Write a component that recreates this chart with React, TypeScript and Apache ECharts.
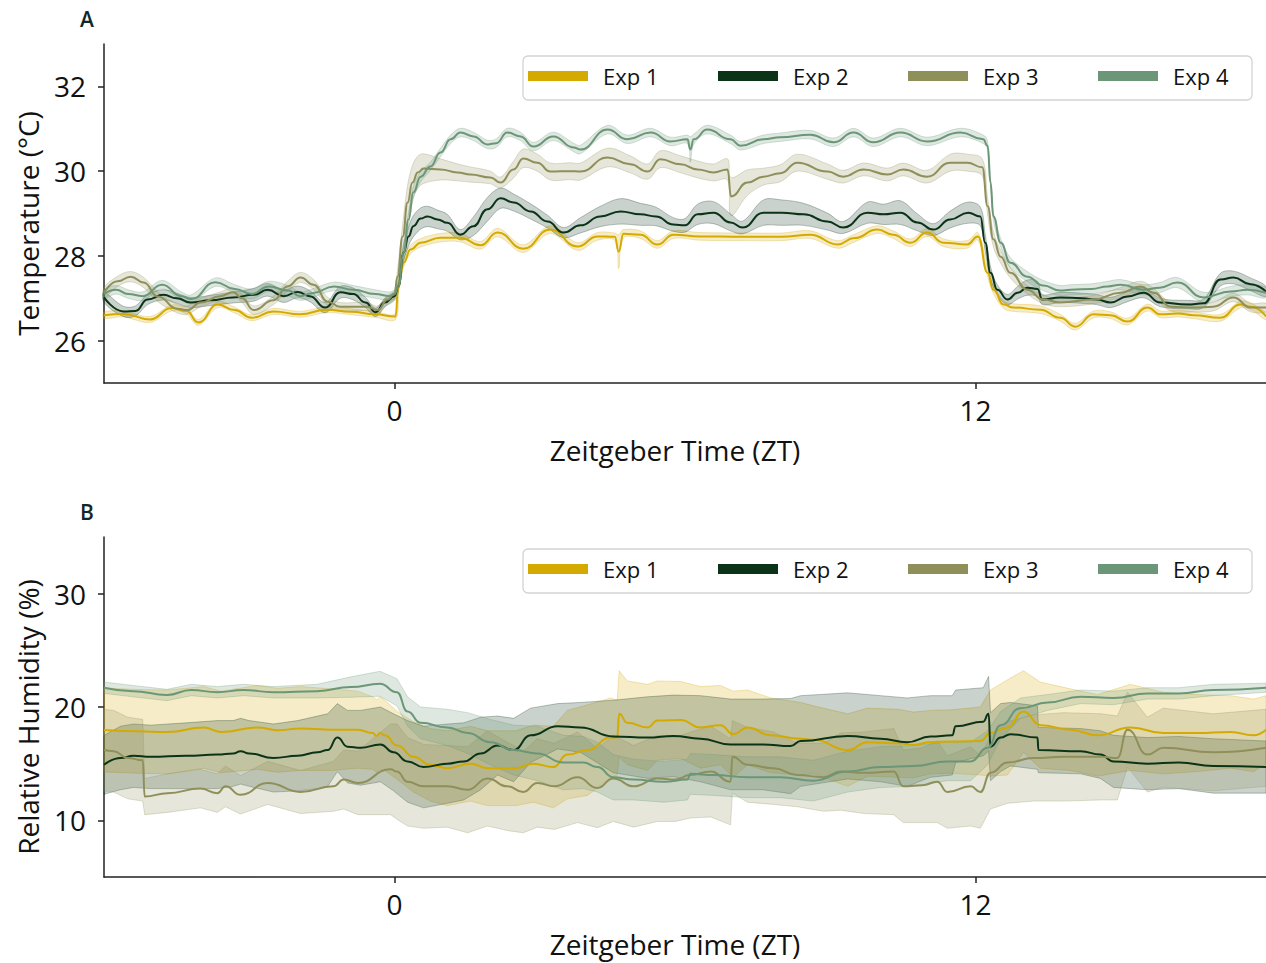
import React, { useEffect, useRef } from "react";
import * as echarts from "echarts";

const seriesNames = ["Exp 1", "Exp 2", "Exp 3", "Exp 4"];
const seriesColors = ["#D4AA00", "#0B3318", "#8F8F5A", "#6B9677"];
const xTicks = [0, 12];
const tempTicks = [26, 28, 30, 32];
const humTicks = [10, 20, 30];

// [ZT, mean, sd]
const tempExp1 = [
  [-6, 26.6, 0.07], [-5.6, 26.63, 0.07], [-5.05, 26.5, 0.07], [-4.6, 26.77, 0.07], [-4.3, 26.7, 0.07],
  [-4.05, 26.43, 0.07], [-3.65, 26.85, 0.07], [-3.3, 26.72, 0.07], [-2.95, 26.54, 0.07], [-2.5, 26.69, 0.07],
  [-1.95, 26.62, 0.07], [-1.4, 26.73, 0.07], [-0.9, 26.68, 0.07], [-0.4, 26.62, 0.07], [0.02, 26.57, 0.07],
  [0.08, 27.28, 0.1], [0.19, 27.84, 0.1], [0.33, 28.15, 0.1], [0.54, 28.31, 0.1], [0.95, 28.43, 0.1],
  [1.36, 28.43, 0.1], [1.78, 28.25, 0.09], [2.13, 28.55, 0.1], [2.66, 28.17, 0.09], [3.22, 28.62, 0.09],
  [3.78, 28.22, 0.09], [4.19, 28.46, 0.09], [4.55, 28.45, 0.09], [4.63, 28.1, 0.4], [4.73, 28.52, 0.1],
  [5.08, 28.5, 0.09], [5.43, 28.27, 0.09], [5.76, 28.5, 0.09], [6.3, 28.46, 0.09], [7.2, 28.45, 0.09],
  [8.0, 28.45, 0.09], [8.59, 28.5, 0.09], [9.15, 28.27, 0.09], [9.5, 28.42, 0.09], [9.97, 28.62, 0.09],
  [10.3, 28.5, 0.09], [10.66, 28.31, 0.09], [11.0, 28.55, 0.09], [11.34, 28.31, 0.09], [11.83, 28.27, 0.09],
  [12.05, 28.46, 0.09], [12.25, 27.6, 0.09], [12.37, 27.2, 0.09], [12.58, 26.85, 0.09], [12.78, 26.78, 0.09],
  [13.34, 26.73, 0.09], [13.75, 26.54, 0.08], [14.06, 26.33, 0.08], [14.44, 26.62, 0.08], [14.79, 26.6, 0.08],
  [15.14, 26.45, 0.08], [15.55, 26.78, 0.08], [15.82, 26.62, 0.08], [16.17, 26.64, 0.08], [16.5, 26.6, 0.08],
  [17.06, 26.54, 0.08], [17.47, 26.85, 0.08], [17.7, 26.8, 0.08], [18, 26.57, 0.08],
];

const tempExp2 = [
  [-6, 27.02, 0.12], [-5.6, 26.69, 0.12], [-5.35, 26.7, 0.12], [-5.1, 26.97, 0.12], [-4.77, 27.08, 0.12],
  [-4.5, 27.0, 0.12], [-4.21, 26.9, 0.12], [-3.8, 26.95, 0.12], [-3.33, 27.02, 0.13], [-2.91, 27.08, 0.15],
  [-2.62, 27.2, 0.15], [-2.29, 27.05, 0.15], [-2.0, 27.15, 0.14], [-1.75, 27.05, 0.13], [-1.43, 26.78, 0.12],
  [-1.12, 27.14, 0.14], [-0.85, 27.1, 0.14], [-0.6, 26.9, 0.12], [-0.39, 26.67, 0.1], [-0.2, 26.9, 0.1],
  [0.0, 27.05, 0.1], [0.08, 27.28, 0.12], [0.19, 28.08, 0.2], [0.29, 28.46, 0.22], [0.39, 28.7, 0.25],
  [0.54, 28.88, 0.25], [0.68, 28.93, 0.24], [0.89, 28.86, 0.22], [1.09, 28.78, 0.2], [1.36, 28.5, 0.12],
  [1.63, 28.7, 0.22], [1.92, 29.1, 0.28], [2.19, 29.36, 0.24], [2.46, 29.26, 0.2], [2.81, 29.05, 0.18],
  [3.16, 28.81, 0.15], [3.49, 28.55, 0.12], [3.84, 28.72, 0.18], [4.25, 28.93, 0.24], [4.67, 29.05, 0.3],
  [5.08, 28.98, 0.26], [5.4, 28.93, 0.22], [5.76, 28.74, 0.16], [6.0, 28.72, 0.16], [6.26, 28.98, 0.24],
  [6.59, 29.02, 0.26], [6.94, 28.79, 0.2], [7.19, 28.67, 0.15], [7.62, 29.02, 0.3], [8.0, 29.02, 0.3],
  [8.45, 28.98, 0.26], [8.94, 28.81, 0.2], [9.27, 28.67, 0.14], [9.77, 29.02, 0.25], [10.1, 28.98, 0.24],
  [10.45, 29.02, 0.28], [10.8, 28.79, 0.2], [11.13, 28.62, 0.14], [11.48, 28.86, 0.2], [11.85, 29.02, 0.25],
  [12.1, 28.93, 0.22], [12.2, 28.31, 0.2], [12.31, 27.6, 0.15], [12.45, 27.2, 0.12], [12.66, 26.97, 0.12],
  [12.87, 27.13, 0.15], [13.07, 27.25, 0.18], [13.28, 27.22, 0.18], [13.38, 26.97, 0.12], [13.75, 27.02, 0.12],
  [14.2, 27.0, 0.12], [14.5, 26.97, 0.12], [14.79, 26.9, 0.12], [15.14, 27.04, 0.12], [15.47, 27.13, 0.12],
  [15.82, 26.9, 0.1], [16.38, 26.85, 0.1], [16.71, 26.88, 0.1], [17.06, 27.44, 0.15], [17.33, 27.49, 0.15],
  [17.68, 27.33, 0.15], [18, 27.16, 0.12],
];

const tempExp3 = [
  [-6, 27.13, 0.12], [-5.72, 27.4, 0.12], [-5.45, 27.51, 0.12], [-5.18, 27.37, 0.12], [-4.89, 27.04, 0.12],
  [-4.48, 26.75, 0.1], [-4.28, 26.72, 0.1], [-4.0, 26.9, 0.1], [-3.6, 27.05, 0.1], [-3.33, 27.14, 0.1],
  [-3.15, 27.0, 0.1], [-2.91, 26.72, 0.1], [-2.5, 26.95, 0.1], [-2.21, 27.28, 0.12], [-1.94, 27.49, 0.12],
  [-1.67, 27.32, 0.12], [-1.38, 26.92, 0.1], [-1.12, 26.8, 0.1], [-0.8, 26.8, 0.1], [-0.56, 26.8, 0.1],
  [-0.35, 26.72, 0.1], [-0.14, 26.97, 0.1], [0.0, 27.1, 0.1], [0.06, 27.51, 0.15], [0.17, 28.46, 0.3],
  [0.27, 29.26, 0.4], [0.37, 29.73, 0.4], [0.48, 29.97, 0.38], [0.6, 30.06, 0.35], [0.95, 30.04, 0.25],
  [1.3, 29.97, 0.2], [1.57, 29.92, 0.18], [1.98, 29.85, 0.15], [2.19, 29.73, 0.13], [2.46, 30.04, 0.2],
  [2.66, 30.3, 0.22], [2.95, 30.2, 0.2], [3.22, 29.99, 0.2], [3.63, 30.0, 0.2], [3.84, 29.99, 0.2],
  [4.4, 30.32, 0.22], [4.87, 30.16, 0.2], [5.23, 29.99, 0.18], [5.49, 30.28, 0.2], [5.91, 30.16, 0.2],
  [6.26, 30.04, 0.2], [6.59, 29.97, 0.2], [6.88, 30.04, 0.25], [6.95, 29.4, 0.45], [7.29, 29.73, 0.3],
  [7.62, 29.87, 0.2], [7.97, 29.95, 0.2], [8.32, 30.2, 0.2], [8.94, 29.99, 0.18], [9.27, 29.87, 0.15],
  [9.69, 30.04, 0.15], [10.18, 29.92, 0.15], [10.51, 30.04, 0.15], [11.0, 29.87, 0.15], [11.48, 30.2, 0.2],
  [11.83, 30.2, 0.2], [12.14, 30.09, 0.2], [12.25, 29.17, 0.2], [12.37, 28.39, 0.18], [12.52, 27.98, 0.15],
  [12.72, 27.6, 0.12], [13.07, 27.2, 0.1], [13.4, 26.97, 0.1], [13.75, 26.9, 0.1], [14.44, 26.97, 0.1],
  [14.99, 27.13, 0.12], [15.41, 27.28, 0.12], [15.68, 27.13, 0.1], [16.03, 26.8, 0.1], [16.5, 26.78, 0.1],
  [16.91, 26.8, 0.1], [17.33, 27.02, 0.1], [17.68, 26.78, 0.1], [18, 26.78, 0.1],
];

const tempExp4 = [
  [-6, 27.1, 0.1], [-5.75, 27.2, 0.1], [-5.5, 27.1, 0.1], [-5.2, 27.05, 0.1], [-4.8, 27.32, 0.1],
  [-4.4, 27.05, 0.1], [-4.2, 26.98, 0.1], [-3.7, 27.38, 0.1], [-3.3, 27.22, 0.1], [-2.95, 27.1, 0.12],
  [-2.6, 27.28, 0.12], [-2.2, 27.18, 0.12], [-1.95, 27.05, 0.1], [-1.7, 27.12, 0.1], [-1.25, 27.28, 0.1],
  [-0.85, 27.2, 0.1], [-0.4, 27.1, 0.1], [-0.1, 27.05, 0.1], [0.0, 27.1, 0.1], [0.08, 27.28, 0.1],
  [0.19, 28.08, 0.15], [0.29, 28.86, 0.15], [0.39, 29.5, 0.15], [0.54, 29.87, 0.12], [0.74, 30.11, 0.1],
  [0.95, 30.44, 0.1], [1.16, 30.75, 0.1], [1.36, 30.91, 0.1], [1.63, 30.82, 0.1], [1.92, 30.63, 0.1],
  [2.1, 30.66, 0.1], [2.33, 30.91, 0.1], [2.6, 30.82, 0.1], [2.87, 30.58, 0.1], [3.28, 30.82, 0.1],
  [3.7, 30.56, 0.1], [3.84, 30.51, 0.1], [4.4, 30.98, 0.1], [4.81, 30.75, 0.1], [5.29, 30.91, 0.1],
  [5.7, 30.7, 0.1], [6.05, 30.75, 0.1], [6.11, 30.51, 0.3], [6.18, 30.75, 0.12], [6.46, 30.98, 0.1],
  [6.94, 30.75, 0.1], [7.15, 30.6, 0.1], [7.62, 30.75, 0.1], [7.97, 30.8, 0.1], [8.59, 30.86, 0.1],
  [9.07, 30.68, 0.1], [9.48, 30.91, 0.1], [9.89, 30.68, 0.1], [10.45, 30.91, 0.1], [11.0, 30.7, 0.1],
  [11.69, 30.91, 0.1], [12.16, 30.75, 0.1], [12.25, 30.6, 0.1], [12.31, 29.73, 0.1], [12.37, 28.93, 0.1],
  [12.52, 28.31, 0.1], [12.72, 27.84, 0.12], [13.07, 27.51, 0.12], [13.4, 27.3, 0.12], [13.75, 27.18, 0.12],
  [13.96, 27.2, 0.12], [14.4, 27.22, 0.12], [14.73, 27.28, 0.12], [15.0, 27.32, 0.12], [15.47, 27.2, 0.12],
  [15.8, 27.25, 0.12], [16.17, 27.37, 0.12], [16.71, 27.02, 0.12], [17.27, 27.16, 0.12], [17.62, 27.2, 0.12],
  [18, 27.13, 0.12],
];

const humExp1 = [
  [-6, 17.97, 3.7], [-5.3, 17.85, 3.7], [-4.69, 17.8, 3.7], [-3.94, 18.2, 3.6], [-3.59, 17.8, 3.6],
  [-2.83, 18.2, 3.7], [-2.42, 17.95, 3.7], [-1.94, 18.1, 3.7], [-1.3, 18.0, 3.6], [-0.76, 18.0, 3.4],
  [-0.45, 17.7, 3.2], [-0.37, 17.45, 3.2], [-0.3, 17.7, 3.2], [-0.2, 17.5, 3.1], [0.06, 16.6, 3.0],
  [0.39, 15.6, 3.1], [0.74, 14.9, 3.2], [1.09, 14.6, 3.3], [1.57, 15.0, 3.3], [1.92, 14.6, 3.3],
  [2.5, 14.6, 3.3], [2.87, 15.0, 3.4], [3.28, 14.7, 3.6], [3.57, 15.8, 3.9], [3.99, 16.2, 4.0],
  [4.46, 17.3, 3.5], [4.6, 17.3, 3.3], [4.64, 19.4, 3.8], [4.81, 18.6, 3.7], [5.23, 18.2, 3.8],
  [5.43, 18.8, 3.5], [5.91, 18.85, 3.4], [6.32, 18.2, 3.6], [6.73, 18.4, 3.5], [7.0, 17.6, 3.8],
  [7.29, 18.2, 3.3], [7.77, 17.5, 3.3], [8.39, 17.2, 3.2], [8.65, 17.1, 3.0], [9.36, 16.2, 3.2],
  [9.77, 16.9, 3.0], [10.4, 16.8, 3.0], [10.72, 16.65, 2.9], [11.07, 16.9, 2.8], [11.5, 16.95, 2.8],
  [12.1, 17.0, 3.0], [12.31, 17.7, 3.8], [12.66, 18.2, 4.2], [12.99, 19.6, 3.6], [13.34, 18.4, 3.8],
  [13.96, 18.0, 3.6], [14.52, 17.5, 3.6], [15.2, 18.2, 3.8], [15.88, 17.7, 3.6], [16.58, 17.7, 3.4],
  [17.27, 17.8, 3.2], [17.74, 17.5, 3.2], [18, 18.0, 3.0],
];

const humExp2 = [
  [-6, 14.9, 2.6], [-5.66, 15.5, 2.8], [-5.39, 15.7, 2.8], [-5.04, 15.6, 2.8], [-4.3, 15.7, 2.9],
  [-3.66, 15.8, 3.0], [-3.33, 15.9, 2.9], [-3.18, 16.1, 2.9], [-3.0, 15.9, 2.9], [-2.5, 15.5, 3.0],
  [-2.0, 15.7, 3.1], [-1.59, 16.0, 3.2], [-1.38, 16.2, 3.2], [-1.18, 17.3, 3.0], [-0.97, 16.5, 3.2],
  [-0.7, 16.4, 3.3], [-0.29, 16.7, 3.3], [-0.02, 16.0, 3.4], [0.27, 15.2, 3.6], [0.6, 14.7, 3.6],
  [1.09, 15.0, 3.5], [1.43, 15.2, 3.4], [1.78, 15.9, 3.2], [2.13, 16.6, 2.6], [2.46, 16.2, 2.8],
  [2.81, 17.5, 2.4], [3.37, 18.3, 2.0], [3.84, 18.2, 2.2], [4.52, 17.4, 3.2], [5.23, 17.3, 3.6],
  [5.76, 17.45, 3.6], [6.32, 17.2, 3.8], [6.94, 16.7, 4.0], [7.6, 16.7, 4.0], [8.18, 16.55, 4.2],
  [8.39, 17.0, 4.0], [9.36, 17.45, 3.8], [10.04, 17.2, 3.8], [10.59, 16.9, 3.9], [11.07, 17.4, 3.6],
  [11.52, 17.5, 3.5], [11.59, 18.3, 3.2], [12.16, 18.7, 3.0], [12.27, 19.4, 3.3], [12.31, 16.5, 3.0],
  [12.52, 17.3, 3.0], [12.72, 17.6, 2.8], [13.28, 17.3, 2.8], [13.3, 16.2, 2.0], [14.17, 16.1, 2.0],
  [14.58, 15.8, 2.1], [14.85, 15.2, 2.3], [15.55, 15.0, 2.3], [16.2, 15.1, 2.3], [16.91, 14.8, 2.4],
  [18, 14.7, 2.3],
];

const humExp3 = [
  [-6, 16.2, 3.6], [-5.8, 16.1, 3.6], [-5.51, 15.5, 3.6], [-5.2, 15.3, 3.6], [-5.16, 12.1, 1.6],
  [-4.69, 12.4, 1.7], [-4.01, 12.8, 1.7], [-3.66, 12.4, 1.7], [-3.49, 13.0, 1.8], [-3.18, 12.25, 1.7],
  [-2.62, 13.3, 1.9], [-1.94, 12.5, 1.9], [-1.26, 13.0, 2.2], [-1.05, 13.6, 2.6], [-0.76, 13.3, 2.8],
  [-0.08, 14.5, 4.0], [0.05, 14.3, 4.2], [0.27, 13.4, 3.9], [0.6, 13.0, 3.7], [1.09, 13.0, 3.6],
  [1.51, 12.7, 3.8], [1.92, 13.7, 4.2], [2.33, 13.0, 3.9], [2.66, 12.5, 3.6], [2.95, 13.3, 3.9],
  [3.3, 13.0, 3.8], [3.78, 13.8, 4.0], [4.19, 12.85, 3.5], [4.52, 13.7, 3.8], [4.94, 13.0, 3.6],
  [5.43, 13.7, 3.8], [5.8, 13.6, 3.7], [6.11, 14.0, 3.8], [6.53, 14.3, 4.0], [6.94, 13.4, 3.8],
  [6.98, 15.6, 3.2], [7.29, 14.9, 3.3], [7.83, 14.6, 3.2], [8.32, 14.0, 2.8], [8.86, 13.8, 3.0],
  [9.21, 14.3, 3.4], [9.7, 14.2, 3.6], [10.31, 14.3, 3.8], [10.51, 13.0, 3.2], [10.9, 13.1, 3.3],
  [11.21, 13.4, 3.6], [11.42, 12.5, 3.2], [11.9, 13.0, 3.5], [12.1, 12.5, 3.2], [12.31, 14.2, 3.2],
  [12.66, 15.1, 3.6], [13.2, 15.5, 3.8], [13.82, 15.6, 3.9], [14.6, 15.6, 3.8], [14.93, 15.5, 3.7],
  [15.14, 18.0, 3.3], [15.55, 15.8, 3.3], [15.88, 16.4, 3.5], [16.91, 16.0, 3.4], [18, 16.4, 3.4],
];

const humExp4 = [
  [-6, 21.7, 0.5], [-5.4, 21.4, 0.5], [-4.7, 21.06, 0.5], [-4.2, 21.5, 0.5], [-3.66, 21.3, 0.5],
  [-3.12, 21.5, 0.5], [-2.5, 21.3, 0.5], [-1.6, 21.4, 0.6], [-0.9, 21.76, 0.9], [-0.3, 22.05, 1.1],
  [0.05, 21.3, 1.2], [0.27, 19.6, 1.3], [0.54, 18.6, 1.4], [1.09, 18.2, 1.6], [1.51, 17.7, 1.8],
  [1.98, 16.9, 2.0], [2.46, 16.2, 2.2], [2.95, 15.9, 2.4], [3.49, 15.1, 2.4], [3.9, 15.1, 2.3],
  [4.19, 14.7, 2.2], [4.52, 13.8, 2.0], [4.94, 13.6, 1.8], [5.56, 13.4, 1.8], [6.05, 13.6, 1.8],
  [6.11, 14.1, 1.8], [6.59, 14.0, 1.8], [7.29, 13.8, 1.8], [7.97, 13.8, 1.8], [8.65, 13.5, 1.8],
  [9.36, 14.3, 1.8], [10.04, 14.7, 1.8], [10.72, 14.8, 1.8], [11.42, 15.2, 1.7], [11.9, 15.2, 1.7],
  [12.25, 16.4, 1.5], [12.52, 18.4, 1.2], [12.93, 19.9, 0.9], [13.49, 20.4, 0.7], [14.17, 20.9, 0.6],
  [14.85, 20.8, 0.6], [15.55, 21.2, 0.5], [16.2, 21.2, 0.5], [16.91, 21.5, 0.5], [18, 21.7, 0.4],
];

const tempData = [tempExp1, tempExp2, tempExp3, tempExp4];
const humData = [humExp1, humExp2, humExp3, humExp4];

const FONT = "'Open Sans', 'Noto Sans', sans-serif";

function rgba(hex: string, a: number) {
  const n = parseInt(hex.slice(1), 16);
  return `rgba(${(n >> 16) & 255},${(n >> 8) & 255},${n & 255},${a})`;
}

function bandSeries(data: number[][], color: string, idx: number, smooth: number) {
  return {
    type: "custom",
    xAxisIndex: idx,
    yAxisIndex: idx,
    silent: true,
    z: 1,
    data: [[6, idx === 0 ? 28 : 20]],
    renderItem: (_p: any, api: any) => {
      const up = data.map((d) => api.coord([d[0], d[1] + d[2]]));
      const lo = data
        .slice()
        .reverse()
        .map((d) => api.coord([d[0], d[1] - d[2]]));
      return {
        type: "polygon",
        shape: { points: up.concat(lo), smooth },
        style: { fill: rgba(color, 0.22), stroke: rgba(color, 0.28), lineWidth: 1 },
      };
    },
  };
}

function lineSeries(data: number[][], name: string, color: string, idx: number) {
  return {
    type: "line",
    name,
    xAxisIndex: idx,
    yAxisIndex: idx,
    data: data.map((d) => [d[0], d[1]]),
    showSymbol: false,
    symbol: "none",
    smooth: 0.5,
    smoothMonotone: "x",
    lineStyle: { color, width: 2 },
    itemStyle: { color },
    z: 3,
  };
}

function xAxis(idx: number) {
  return {
    type: "value",
    gridIndex: idx,
    min: -6,
    max: 18,
    axisLine: { show: true, onZero: false, lineStyle: { color: "#222", width: 1.5 } },
    axisTick: { show: true, length: 6, lineStyle: { color: "#222", width: 1.5 }, customValues: xTicks },
    axisLabel: { customValues: xTicks, fontSize: 28, color: "#111", margin: 13, fontFamily: FONT },
    splitLine: { show: false },
    name: "Zeitgeber Time (ZT)",
    nameLocation: "middle",
    nameGap: 53,
    nameTextStyle: { fontSize: 28, color: "#111", fontFamily: FONT, padding: [0, 20, 0, 0] },
  };
}

function yAxis(idx: number, min: number, max: number, ticks: number[], name: string) {
  return {
    type: "value",
    gridIndex: idx,
    min,
    max,
    axisLine: { show: true, onZero: false, lineStyle: { color: "#222", width: 1.5 } },
    axisTick: { show: true, length: 6, lineStyle: { color: "#222", width: 1.5 }, customValues: ticks },
    axisLabel: { customValues: ticks, fontSize: 28, color: "#111", margin: 18, fontFamily: FONT },
    splitLine: { show: false },
    name,
    nameLocation: "middle",
    nameGap: 62,
    nameRotate: 90,
    nameTextStyle: { fontSize: 28, color: "#111", fontFamily: FONT, padding: [0, 20, 0, 0] },
  };
}

function legend(top: number) {
  return {
    left: 523,
    top,
    orient: "horizontal",
    data: seriesNames,
    icon: "rect",
    itemWidth: 60,
    itemHeight: 10,
    itemGap: 59,
    selectedMode: false,
    padding: [8, 23, 12, 5],
    borderColor: "#d3d3d3",
    borderWidth: 1.3,
    borderRadius: 5,
    backgroundColor: "#fff",
    textStyle: { fontFamily: FONT, fontSize: 22, color: "#111", padding: [0, 0, 0, 10], width: 56, lineHeight: 24 },
  };
}

export default function App() {
  const ref = useRef<HTMLDivElement>(null);
  useEffect(() => {
    if (!ref.current) return;
    const chart = echarts.init(ref.current, null, { renderer: "svg" });
    const series: any[] = [];
    tempData.forEach((d, i) => series.push(bandSeries(d, seriesColors[i], 0, 0.35)));
    humData.forEach((d, i) => series.push(bandSeries(d, seriesColors[i], 1, 0)));
    tempData.forEach((d, i) => series.push(lineSeries(d, seriesNames[i], seriesColors[i], 0)));
    humData.forEach((d, i) => series.push(lineSeries(d, seriesNames[i], seriesColors[i], 1)));
    chart.setOption({
      animation: false,
      backgroundColor: "#fff",
      textStyle: { fontFamily: FONT },
      grid: [
        { left: 104, top: 44, width: 1162, height: 339 },
        { left: 104, top: 537, width: 1162, height: 340 },
      ],
      xAxis: [xAxis(0), xAxis(1)],
      yAxis: [
        yAxis(0, 25, 33, tempTicks, "Temperature (°C)"),
        yAxis(1, 5, 35, humTicks, "Relative Humidity (%)"),
      ],
      legend: [legend(56), legend(549)],
      graphic: [
        { type: "text", left: 80, top: 8, style: { text: "A", fontSize: 21, fill: "#10282a", fontFamily: FONT, fontWeight: 600 } },
        { type: "text", left: 80, top: 501, style: { text: "B", fontSize: 21, fill: "#10282a", fontFamily: FONT, fontWeight: 600 } },
      ],
      series,
    });
    return () => chart.dispose();
  }, []);
  return <div ref={ref} style={{ position: "absolute", left: 0, top: 0, width: 1266, height: 963 }} />;
}
